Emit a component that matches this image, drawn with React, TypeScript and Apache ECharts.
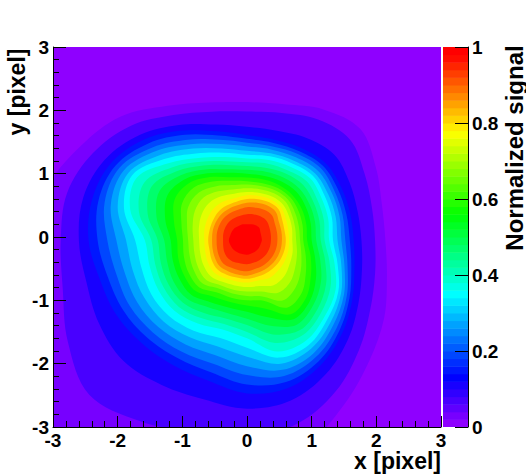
import React, { useEffect, useRef } from "react";
import * as echarts from "echarts";

// Contour levels of the normalized signal.
const levels = [0.02,0.04,0.08,0.12,0.16,0.2,0.24,0.28,0.32,0.36,0.4,0.44,0.48,0.52,0.56,0.6,0.64,0.68,0.72,0.76,0.8,0.84,0.88,0.92,0.96];
const peakX = 0;
const peakY = -0.05;
const rayStep = 15;
// Distance from the peak at which each contour level is crossed, one row per direction (0, 15, ... 345 degrees).
const ray000 = [2.14,1.98,1.77,1.65,1.59,1.52,1.46,1.40,1.33,1.27,1.20,1.14,1.07,1.00,.93,.87,.82,.76,.70,.65,.60,.54,.47,.37,.23];
const ray015 = [2.16,2.00,1.77,1.65,1.59,1.53,1.48,1.42,1.36,1.30,1.23,1.16,1.09,1.02,.95,.89,.83,.77,.72,.66,.60,.55,.48,.38,.23];
const ray030 = [2.30,2.10,1.83,1.68,1.62,1.56,1.51,1.45,1.39,1.33,1.26,1.19,1.12,1.05,.98,.92,.86,.80,.75,.69,.63,.57,.50,.40,.24];
const ray045 = [2.48,2.25,1.91,1.72,1.66,1.61,1.55,1.49,1.44,1.38,1.31,1.23,1.15,1.08,1.00,.95,.90,.85,.79,.74,.69,.63,.55,.43,.27];
const ray060 = [2.38,2.20,1.86,1.68,1.62,1.57,1.51,1.45,1.40,1.34,1.27,1.21,1.14,1.07,1.00,.95,.90,.85,.79,.74,.69,.63,.55,.43,.27];
const ray075 = [2.22,2.08,1.79,1.64,1.59,1.53,1.48,1.42,1.37,1.31,1.25,1.18,1.12,1.05,.99,.93,.88,.83,.77,.72,.67,.61,.53,.42,.26];
const ray090 = [2.18,2.03,1.79,1.66,1.60,1.54,1.48,1.41,1.35,1.29,1.23,1.17,1.11,1.05,.99,.93,.88,.82,.76,.71,.65,.59,.52,.41,.25];
const ray105 = [2.25,2.10,1.89,1.78,1.71,1.64,1.57,1.50,1.43,1.36,1.29,1.23,1.16,1.10,1.03,.97,.90,.83,.76,.69,.63,.57,.50,.40,.26];
const ray120 = [2.45,2.28,2.10,2.00,1.92,1.83,1.75,1.67,1.58,1.50,1.43,1.36,1.29,1.22,1.15,1.07,.98,.89,.80,.71,.63,.57,.50,.40,.26];
const ray135 = [2.76,2.55,2.35,2.25,2.16,2.07,1.99,1.90,1.81,1.72,1.63,1.54,1.45,1.36,1.27,1.17,1.06,.95,.83,.72,.63,.57,.50,.40,.27];
const ray150 = [2.97,2.75,2.54,2.43,2.35,2.28,2.20,2.12,2.05,1.97,1.83,1.70,1.56,1.42,1.29,1.16,1.05,.93,.81,.70,.61,.56,.49,.39,.27];
const ray165 = [3.20,2.88,2.62,2.48,2.38,2.28,2.18,2.07,1.97,1.87,1.73,1.59,1.45,1.31,1.17,1.05,.96,.87,.77,.68,.60,.55,.48,.38,.27];
const ray180 = [3.30,2.88,2.60,2.45,2.31,2.16,2.02,1.87,1.73,1.58,1.48,1.38,1.28,1.18,1.08,.99,.91,.83,.74,.66,.60,.54,.47,.37,.28];
const ray195 = [3.60,2.95,2.57,2.36,2.23,2.09,1.96,1.83,1.69,1.56,1.47,1.38,1.28,1.19,1.10,1.01,.92,.84,.75,.67,.60,.55,.48,.38,.27];
const ray210 = [3.90,3.20,2.64,2.34,2.21,2.09,1.96,1.83,1.71,1.58,1.49,1.40,1.31,1.21,1.12,1.04,.95,.87,.78,.70,.63,.57,.50,.40,.26];
const ray225 = [4.20,3.45,2.70,2.30,2.18,2.06,1.94,1.82,1.70,1.58,1.49,1.40,1.31,1.22,1.13,1.05,.97,.89,.80,.72,.65,.59,.52,.41,.25];
const ray240 = [4.20,3.30,2.64,2.28,2.15,2.03,1.90,1.77,1.65,1.52,1.42,1.33,1.22,1.13,1.03,.95,.88,.82,.76,.69,.63,.57,.50,.40,.24];
const ray255 = [3.90,3.15,2.60,2.30,2.16,2.02,1.88,1.74,1.60,1.46,1.37,1.28,1.19,1.10,1.01,.94,.87,.81,.74,.67,.61,.56,.49,.38,.23];
const ray270 = [3.70,3.10,2.66,2.42,2.28,2.13,1.99,1.84,1.70,1.55,1.45,1.34,1.24,1.13,1.03,.95,.88,.81,.74,.67,.61,.56,.49,.38,.23];
const ray285 = [3.40,3.00,2.62,2.42,2.32,2.22,2.12,2.02,1.92,1.82,1.68,1.54,1.40,1.26,1.12,.99,.92,.84,.75,.66,.60,.54,.47,.37,.22];
const ray300 = [3.00,2.75,2.44,2.28,2.21,2.13,2.06,1.98,1.91,1.83,1.73,1.64,1.54,1.44,1.35,1.23,1.10,.96,.82,.69,.60,.54,.47,.37,.22];
const ray315 = [2.68,2.45,2.21,2.08,2.02,1.96,1.89,1.83,1.76,1.70,1.62,1.54,1.45,1.37,1.29,1.19,1.06,.94,.81,.68,.60,.54,.47,.37,.22];
const ray330 = [2.45,2.20,1.99,1.88,1.83,1.78,1.73,1.68,1.63,1.58,1.49,1.41,1.32,1.23,1.14,1.05,.96,.86,.76,.67,.60,.54,.47,.37,.22];
const ray345 = [2.24,2.05,1.84,1.72,1.67,1.61,1.56,1.51,1.45,1.40,1.32,1.25,1.17,1.09,1.02,.94,.87,.80,.73,.66,.60,.54,.47,.37,.22];
const rays = [ray000,ray015,ray030,ray045,ray060,ray075,ray090,ray105,ray120,ray135,ray150,ray165,ray180,ray195,ray210,ray225,ray240,ray255,ray270,ray285,ray300,ray315,ray330,ray345];

const barBands = 50;
const paletteStops: [number, number, number, number][] = [
  [0, 155, 0, 255], [0.13, 0, 0, 255], [0.35, 0, 255, 255], [0.56, 0, 255, 0], [0.775, 255, 255, 0], [0.98, 255, 0, 0], [1, 255, 0, 0],
];
const FONT = "Liberation Sans";

function colorOf(v: number): string {
  const t = (Math.min(Math.floor(v * barBands), barBands - 1) + 0.5) / barBands;
  for (let i = 1; i < paletteStops.length; i++) {
    const a = paletteStops[i - 1], b = paletteStops[i];
    if (t <= b[0]) {
      const k = (t - a[0]) / (b[0] - a[0]);
      const c = [1, 2, 3].map((j) => Math.round(a[j] + (b[j] - a[j]) * k));
      return `rgb(${c[0]},${c[1]},${c[2]})`;
    }
  }
  return "rgb(255,0,0)";
}

export default function App() {
  const ref = useRef<HTMLDivElement>(null);
  useEffect(() => {
    const chart = echarts.init(ref.current!, undefined, { renderer: "svg" });
    const tickAxis = (gridIndex: number) => ({
      gridIndex,
      type: "value" as const,
      z: 10,
      min: -3,
      max: 3,
      interval: 1,
      axisLine: { show: true, onZero: false, lineStyle: { color: "#000", width: 1 } },
      splitLine: { show: false },
      minorSplitLine: { show: false },
      minorTick: { show: true, splitNumber: 5, length: 6, lineStyle: { color: "#000", width: 1 } },
      axisLabel: { color: "#000", fontFamily: FONT, fontWeight: "bold" as const, fontSize: 19, lineHeight: 15, margin: 6, hideOverlap: false, showMinLabel: true, showMaxLabel: true },
    });
    const yTicks = tickAxis(0);
    chart.setOption({
      animation: false,
      backgroundColor: "#fff",
      grid: [
        { left: 53, top: 47, width: 388, height: 380, show: true, backgroundColor: colorOf(0.01), borderWidth: 0, containLabel: false },
        { left: 443, top: 47, width: 25, height: 380, show: false, containLabel: false },
      ],
      xAxis: [
        { ...tickAxis(0), axisTick: { inside: true, length: 11, lineStyle: { color: "#000", width: 1 } } },
        { gridIndex: 1, type: "value", min: 0, max: 1, show: false },
      ],
      yAxis: [
        { ...yTicks, axisLabel: { ...yTicks.axisLabel, margin: 4 }, axisTick: { inside: true, length: 13, lineStyle: { color: "#000", width: 1 } } },
        {
          gridIndex: 1, type: "value", min: 0, max: 1, interval: 0.2, position: "right", z: 10,
          axisLine: { show: true, onZero: false, lineStyle: { color: "#000", width: 1 } },
          axisTick: { inside: true, length: 13, lineStyle: { color: "#000", width: 1 } },
          splitLine: { show: false },
          axisLabel: { color: "#000", fontFamily: FONT, fontWeight: "bold", fontSize: 19, margin: 4, hideOverlap: false, showMinLabel: true, showMaxLabel: true },
        },
      ],
      series: [
        {
          type: "custom", xAxisIndex: 0, yAxisIndex: 0, clip: true, silent: true, z: 1,
          encode: { x: 0, y: 1 },
          data: levels.map((l) => [peakX, peakY, l]),
          renderItem: (params: any, api: any) => {
            const i = params.dataIndex;
            const next = i + 1 < levels.length ? levels[i + 1] : 1;
            const points = rays.map((row, k) => {
              const a = (k * rayStep * Math.PI) / 180;
              return api.coord([peakX + row[i] * Math.cos(a), peakY + row[i] * Math.sin(a)]);
            });
            return {
              type: "polygon",
              shape: { points, smooth: 0.35, smoothConstraint: false },
              style: { fill: colorOf((levels[i] + next) / 2), stroke: null },
            };
          },
        },
        {
          type: "custom", xAxisIndex: 1, yAxisIndex: 1, clip: true, silent: true, z: 1,
          encode: { x: 0, y: 1 },
          data: Array.from({ length: barBands }, (_, i) => [0, i / barBands]),
          renderItem: (params: any, api: any) => {
            const v = api.value(1);
            const p0 = api.coord([0, v]);
            const p1 = api.coord([1, v + 1 / barBands]);
            return {
              type: "rect",
              shape: { x: p0[0], y: p1[1], width: p1[0] - p0[0], height: p0[1] - p1[1] + 0.5 },
              style: { fill: colorOf(v + 0.5 / barBands), stroke: null },
            };
          },
        },
      ],
      graphic: [
        { type: "text", right: 85, top: 449, style: { text: "x [pixel]", fontFamily: FONT, fontWeight: "bold", fontSize: 23, fill: "#000" } },
        { type: "text", x: 17, y: 92, rotation: Math.PI / 2, style: { text: "y [pixel]", fontFamily: FONT, fontWeight: "bold", fontSize: 23, fill: "#000", align: "center", verticalAlign: "middle" } },
        { type: "text", x: 514, y: 148, rotation: Math.PI / 2, style: { text: "Normalized signal", fontFamily: FONT, fontWeight: "bold", fontSize: 24, fill: "#000", align: "center", verticalAlign: "middle" } },
      ],
    });
    return () => chart.dispose();
  }, []);
  return <div ref={ref} style={{ position: "absolute", left: 0, top: 0, width: 526, height: 474 }} />;
}
